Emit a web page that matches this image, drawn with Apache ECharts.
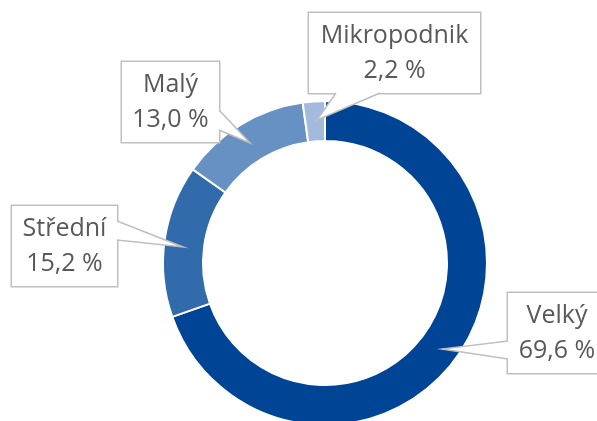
<!DOCTYPE html>
<html>
<head>
<meta charset="utf-8">
<script src="https://cdn.jsdelivr.net/npm/echarts@6/dist/echarts.min.js"></script>
<style>
html,body{margin:0;padding:0;background:#fff;}
#c{width:597px;height:421px;}
</style>
</head>
<body>
<div id="c"></div>
<script>
const categories = ['Velký', 'Střední', 'Malý', 'Mikropodnik'];
const shares = [69.6, 15.2, 13.0, 2.2];
const colors = ['#004595', '#326BAB', '#6891C3', '#A2BBDD'];

// label box placement (centre x, centre y, width) and callout wedge geometry
const boxes = [
  {x: 557, y: 333, w: 98,  line: [[508, 341], [442, 349], [508, 359]], inset: [1.5, 0]},
  {x: 64.5, y: 246, w: 105, line: [[117, 221], [183, 247], [117, 240]], inset: [-1.5, 0]},
  {x: 170.5, y: 102, w: 97, line: [[219, 110], [250, 143], [219, 130]], inset: [-1.5, 0]},
  {x: 394.5, y: 53, w: 171, line: [[336, 93], [317, 120], [380, 93]], inset: [0, -1.5]}
];

const fmt = v => v.toFixed(1).replace('.', ',') + ' %';

const base = {
  type: 'pie',
  center: [325, 263],
  radius: [122, 162],
  startAngle: 90,
  clockwise: true,
  avoidLabelOverlap: false,
  silent: true
};

// callout wedges (white filled, grey sides) drawn above the boxes
const wedges = [];
boxes.forEach(b => {
  const [p1, tip, p2] = b.line;
  const d = b.inset;
  wedges.push({
    type: 'polygon', z: 20, silent: true,
    shape: {points: [[p1[0] + d[0], p1[1] + d[1]], p1, tip, p2, [p2[0] + d[0], p2[1] + d[1]]]},
    style: {fill: '#ffffff', stroke: null}
  });
  wedges.push({
    type: 'polyline', z: 21, silent: true,
    shape: {points: [p1, tip, p2]},
    style: {stroke: '#BFBFBF', lineWidth: 1.5, fill: null}
  });
});

const chart = echarts.init(document.getElementById('c'), null, {renderer: 'canvas'});
chart.setOption({
  backgroundColor: '#ffffff',
  animation: false,
  graphic: {elements: wedges},
  series: [
    Object.assign({}, base, {
      z: 1,
      itemStyle: {borderColor: '#ffffff', borderWidth: 2},
      label: {show: false},
      labelLine: {show: false},
      data: categories.map((n, i) => ({name: n, value: shares[i], itemStyle: {color: colors[i]}}))
    }),
    Object.assign({}, base, {
      z: 5,
      itemStyle: {color: 'rgba(0,0,0,0)', borderWidth: 0},
      label: {
        show: true,
        position: 'outside',
        formatter: p => p.name + '\n' + fmt(p.value),
        fontFamily: 'Open Sans',
        fontSize: 25,
        lineHeight: 35,
        color: '#595959',
        backgroundColor: '#ffffff',
        borderColor: '#BFBFBF',
        borderWidth: 1.5,
        padding: [5, 0]
      },
      labelLine: {show: false},
      labelLayout: function (params) {
        const b = boxes[params.dataIndex];
        return {x: b.x, y: b.y, align: 'center', verticalAlign: 'middle'};
      },
      data: categories.map((n, i) => ({name: n, value: shares[i], label: {width: boxes[i].w}}))
    })
  ]
});
</script>
</body>
</html>
